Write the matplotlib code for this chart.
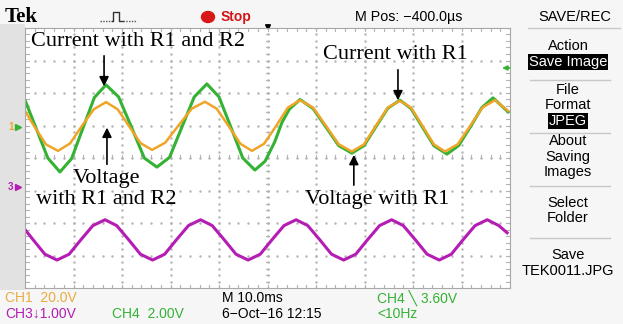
import matplotlib.pyplot as plt
from matplotlib.patches import Rectangle, Ellipse

# time axis in ms (10 ms/div), values in screen divisions (0 = centre line)
# CH1 voltage (orange)
ch1_t = [0.0, 1.8, 4.3, 6.8, 9.3, 11.75, 14.2, 16.7, 19.1, 21.45, 23.8, 26.2,
         28.9, 31.65, 34.4, 37.1, 39.5, 41.95, 44.4, 46.8, 49.3, 51.75, 54.2, 56.7,
         59.4, 62.05, 64.7, 67.4, 69.9, 72.35, 74.8, 77.3, 79.6, 81.95, 84.3, 86.6,
         89.2, 91.75, 94.3, 96.9, 99.6]
ch1_v = [1.45, 1.0, 0.42, 0.22, 0.45, 0.99, 1.5, 1.72, 1.5, 0.98, 0.46, 0.25,
         0.47, 1.0, 1.52, 1.73, 1.52, 0.99, 0.44, 0.22, 0.44, 0.98, 1.55, 1.78,
         1.55, 0.99, 0.42, 0.2, 0.42, 0.99, 1.55, 1.76, 1.55, 0.99, 0.42, 0.2,
         0.42, 0.98, 1.55, 1.78, 1.45]

# CH4 current (green)
ch4_t = [0.0, 2.2, 4.7, 7.2, 9.6, 11.95, 14.3, 16.7, 19.3, 21.95, 24.6, 27.2,
         29.8, 32.35, 34.9, 37.5, 40.0, 42.45, 44.9, 47.4, 49.5, 51.5, 53.0, 54.5, 56.7,
         59.4, 62.05, 64.7, 67.4, 69.9, 72.35, 74.8, 77.3, 79.6, 81.95, 84.3, 87.0,
         89.4, 91.8, 94.2, 96.5, 99.6]
ch4_v = [1.78, 0.95, 0.0, -0.43, -0.02, 0.92, 1.86, 2.25, 1.88, 0.95, 0.0, -0.28,
         0.02, 0.95, 1.88, 2.28, 1.88, 0.95, 0.0, -0.37, -0.1, 0.5, 1.1, 1.5, 1.8,
         1.52, 0.95, 0.38, 0.15, 0.38, 0.96, 1.53, 1.78, 1.52, 0.95, 0.38, 0.12,
         0.38, 0.95, 1.55, 1.85, 1.42]

# CH3 (magenta)
ch3_t = [0.0, 1.7, 4.1, 6.6, 9.1, 11.5, 14.0, 16.5, 18.9, 21.4, 23.8, 26.3,
         28.8, 31.2, 33.7, 36.2, 38.6, 41.1, 43.5, 46.0, 48.5, 50.9, 53.4, 55.9,
         58.3, 60.8, 63.2, 65.7, 68.2, 70.6, 73.1, 75.6, 78.0, 80.5, 82.9, 85.4,
         87.9, 90.3, 92.8, 95.3, 97.7, 99.4]
ch3_v = [-2.2, -2.52, -2.96, -3.14, -2.96, -2.52, -2.08, -1.9, -2.08, -2.52, -2.96, -3.14,
         -2.96, -2.52, -2.08, -1.9, -2.08, -2.52, -2.96, -3.14, -2.96, -2.52, -2.08, -1.9,
         -2.08, -2.52, -2.96, -3.14, -2.96, -2.52, -2.08, -1.9, -2.08, -2.52, -2.96, -3.14,
         -2.96, -2.52, -2.08, -1.9, -2.08, -2.3]

menu_lines = ['Action', 'Save Image', 'File', 'Format', 'JPEG', 'About', 'Saving', 'Images',
              'Select', 'Folder', 'Save', 'TEK0011.JPG']
menu_inverse = ['Save Image', 'JPEG']

orange = '#f0a428'
green = '#34b234'
magenta = '#b41cb4'
sans = ['Liberation Sans', 'DejaVu Sans']
serif = 'Liberation Serif'

fig = plt.figure(figsize=(6.23, 3.24), dpi=100)
fig.patch.set_facecolor('#f6f6f6')

# background layer in pixel coordinates
bg = fig.add_axes([0, 0, 1, 1])
bg.set_xlim(0, 623)
bg.set_ylim(324, 0)
bg.axis('off')
bg.add_patch(Rectangle((0, 24), 25, 266, color='#e2e2e2', lw=0))

# header
bg.text(5, 17, 'Tek', fontsize=15, fontweight='bold', family=serif, va='center')
bg.plot([100, 112], [21, 21], color='#555555', lw=1, ls=(0, (1, 1)))
bg.plot([112, 113, 113, 119, 119, 123], [21, 21, 12, 12, 21, 21], color='#333333', lw=1)
bg.plot([123, 137], [21, 21], color='#555555', lw=1, ls=(0, (1, 1)))
bg.add_patch(Ellipse((208, 17), 13, 11, color='#d81818'))
bg.text(221, 17, 'Stop', fontsize=10, color='#d01818', family=sans, va='center', fontweight='bold')
bg.text(355, 17, 'M Pos: \u2212400.0\u00b5s', fontsize=10.3, family=sans, va='center')
bg.text(575, 17, 'SAVE/REC', fontsize=10.5, family=sans, va='center', ha='center')
bg.plot([528, 620], [28, 28], color='#c8c8c8', lw=1)
bg.annotate('', xy=(268, 34), xytext=(268, 24),
            arrowprops=dict(arrowstyle='-|>', color='black', lw=1.2, mutation_scale=8))

# left channel markers
bg.text(8, 127, '1', fontsize=7, color=orange, family=sans, va='center', fontweight='bold')
bg.plot([18], [127], marker='>', color=green, ms=4)
bg.text(8, 187, '3', fontsize=7, color=magenta, family=sans, va='center', fontweight='bold')
bg.plot([18], [187], marker='>', color=magenta, ms=4)

# right menu
menu_y = [46, 62, 90, 105, 121, 141, 157, 172, 203, 218, 255, 271]
for label, y in zip(menu_lines, menu_y):
    if label in menu_inverse:
        bg.text(568, y, label, fontsize=10.5, family=sans, ha='center', va='center', color='white',
                bbox=dict(boxstyle='square,pad=0.08', fc='black', ec='none'))
    else:
        bg.text(568, y, label, fontsize=10.5, family=sans, ha='center', va='center')
for y in [80, 133, 186, 238]:
    bg.plot([530, 610], [y, y], color='#c8c8c8', lw=1)

# status line
bg.text(5, 298, 'CH1  20.0V', fontsize=10, color='#e8ac40', family=sans, va='center')
bg.text(5, 314, 'CH3\u21931.00V', fontsize=10, color=magenta, family=sans, va='center')
bg.text(112, 314, 'CH4  2.00V', fontsize=10, color=green, family=sans, va='center')
bg.text(222, 298, 'M 10.0ms', fontsize=10, family=sans, va='center')
bg.text(222, 314, '6\u2212Oct\u221216 12:15', fontsize=10, family=sans, va='center')
bg.text(377, 298, 'CH4 \u2572 3.60V', fontsize=10, color=green, family=sans, va='center')
bg.text(377, 314, '<10Hz', fontsize=10, color=green, family=sans, va='center')

# screen
ax = fig.add_axes([25 / 623, 36 / 324, 485 / 623, 260 / 324])
ax.set_xlim(0, 100)
ax.set_ylim(-4, 4)
ax.set_facecolor('white')
for s in ax.spines.values():
    s.set_color('#a8a8a8')
ax.set_xticks([])
ax.set_yticks([])

# dotted graticule
for k in range(1, 10):
    ax.plot([k * 10] * 41, [i * 0.2 - 4 for i in range(41)], ls='none', marker='.', ms=1.5, color='#b4b4b4')
for k in range(-3, 4):
    ax.plot([i * 2 for i in range(51)], [k] * 51, ls='none', marker='.', ms=1.5, color='#b4b4b4')
# tick marks on centre lines and border
for i in range(51):
    x = i * 2
    for yb in (-4, 0, 3.9):
        ax.plot([x, x], [yb, yb + 0.1], color='#b4b4b4', lw=0.8)
for i in range(41):
    y = i * 0.2 - 4
    for xb in (0, 49.6, 99.2):
        ax.plot([xb, xb + 0.8], [y, y], color='#b4b4b4', lw=0.8)

ax.plot(ch4_t, ch4_v, color=green, lw=2.2)
ax.plot(ch1_t, ch1_v, color=orange, lw=1.8)
ax.plot(ch3_t, ch3_v, color=magenta, lw=2.2)

# trigger level marker
ax.annotate('', xy=(97.8, 2.77), xytext=(100.5, 2.77), annotation_clip=False,
            arrowprops=dict(arrowstyle='-|>', color=green, lw=1.2, mutation_scale=7))

# annotations
arrow = dict(arrowstyle='-|>', color='black', lw=1.2, mutation_scale=14)
ax.text(23.3, 3.6, 'Current with R1 and R2', fontsize=16, family=serif, ha='center', va='center')
ax.annotate('', xy=(16.3, 2.12), xytext=(16.3, 3.23), arrowprops=arrow)
ax.text(16.9, -0.62, 'Voltage', fontsize=16, family=serif, ha='center', va='center')
ax.text(16.8, -1.29, 'with R1 and R2', fontsize=16, family=serif, ha='center', va='center')
ax.annotate('', xy=(16.9, 1.02), xytext=(16.9, -0.28), arrowprops=arrow)
ax.text(76.3, 3.17, 'Current with R1', fontsize=16, family=serif, ha='center', va='center')
ax.annotate('', xy=(76.9, 1.69), xytext=(76.9, 2.8), arrowprops=arrow)
ax.text(72.6, -1.29, 'Voltage with R1', fontsize=16, family=serif, ha='center', va='center')
ax.annotate('', xy=(67.8, 0.18), xytext=(67.8, -0.92), arrowprops=arrow)

fig.savefig('out.png', dpi=100, facecolor=fig.get_facecolor())
